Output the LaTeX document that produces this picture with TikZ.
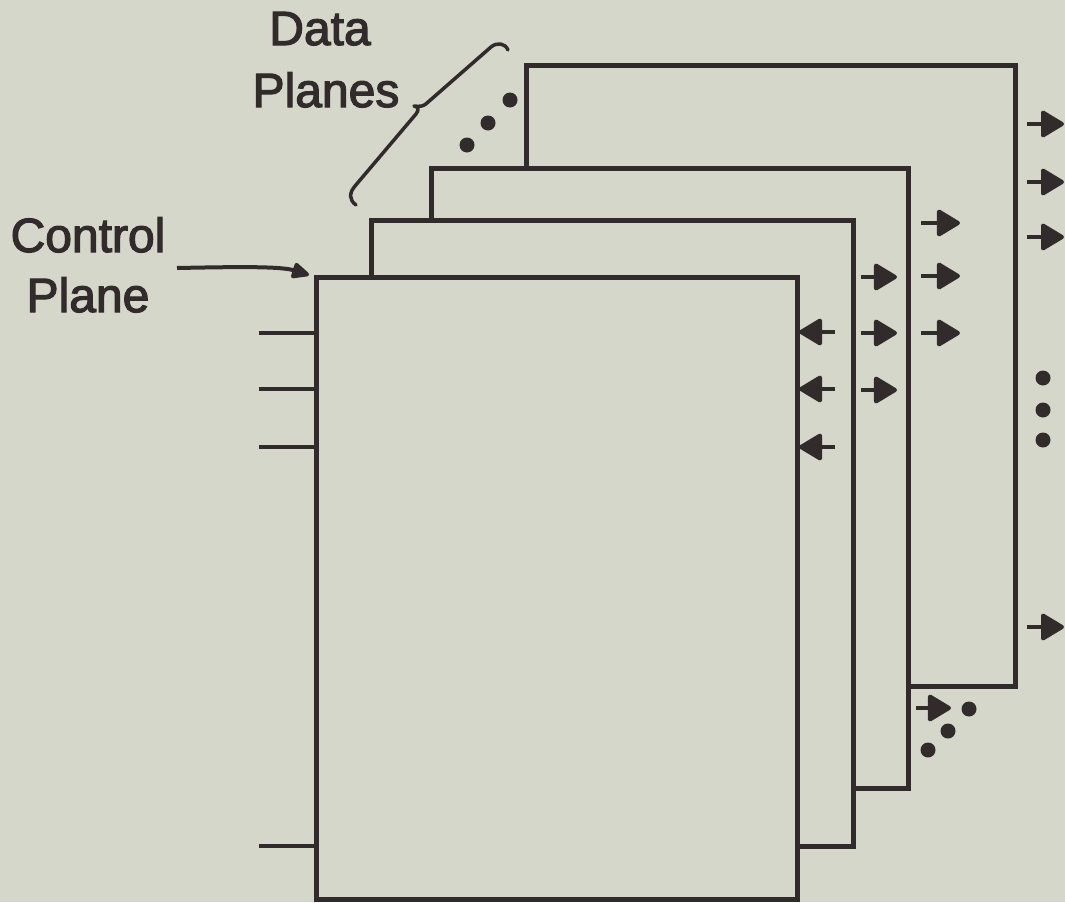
\documentclass[tikz,border=0pt]{standalone}
\usepackage{fontspec}
\setmainfont{Liberation Sans}
\newfontfamily\lblfont[FakeBold=2.5]{Liberation Sans}
\usetikzlibrary{arrows.meta}
\definecolor{ink}{RGB}{50,43,43}
\definecolor{paper}{RGB}{213,215,202}
\begin{document}
\begin{tikzpicture}[x=1pt,y=1pt,
  plane/.style={draw=ink, fill=paper, line width=5pt, inner sep=0pt, outer sep=0pt, anchor=north west},
  sig/.style={draw=ink, line width=4pt, -{Triangle[length=25pt,width=29pt,round]}},
  wire/.style={draw=ink, line width=4.5pt},
  dot/.style={fill=ink},
  lbl/.style={font=\lblfont\fontsize{48}{60}\selectfont, text=ink, inner sep=0pt, anchor=base},
  ctlarrow/.style={draw=ink, line width=4pt, -{Triangle[length=20pt,width=17pt,round]}},
  bracepath/.style={draw=ink, line width=3.5pt, line cap=round, line join=round}]
\useasboundingbox (0,0) rectangle (1065,-902);
\fill[paper] (0,0) rectangle (1065,-902);

% planes, back to front
\node[plane, minimum width=489pt, minimum height=621pt] (p4) at (526,-65) {};
\node[plane, minimum width=477pt, minimum height=620pt] (p3) at (431,-168) {};
\node[plane, minimum width=482pt, minimum height=626pt] (p2) at (371,-220) {};
\node[plane, minimum width=481pt, minimum height=622pt] (p1) at (316,-277) {};

% outputs of back data plane
\foreach \y [count=\i] in {124,182,237,627} {
  \coordinate (a4s\i) at (1027,-\y);
  \coordinate (a4e\i) at (1064,-\y);
  \draw[sig] (a4s\i) -- (a4e\i);
}
% outputs of third plane
\foreach \y [count=\i] in {223,276,333} {
  \coordinate (a3s\i) at (921,-\y);
  \coordinate (a3e\i) at (960,-\y);
  \draw[sig] (a3s\i) -- (a3e\i);
}
% outputs of second plane
\foreach \y [count=\i] in {277,333,390} {
  \coordinate (a2s\i) at (861,-\y);
  \coordinate (a2e\i) at (897,-\y);
  \draw[sig] (a2s\i) -- (a2e\i);
}
% inputs into control plane (right side)
\foreach \y [count=\i] in {332,389,447} {
  \coordinate (a1s\i) at (835,-\y);
  \draw[sig] (a1s\i) -- ([xshift=2pt]a1s\i -| p1.east);
}
% inputs on left side of control plane
\foreach \y [count=\i] in {333,389,447,846} {
  \coordinate (w\i) at (259,-\y);
  \draw[wire] (w\i) -- (w\i -| p1.west);
}
% arrow below back plane
\coordinate (bs) at (916,-708);
\coordinate (be) at (951,-708);
\draw[sig] (bs) -- (be);

% dots
\foreach \x/\y in {510/100, 488/123, 467/145, 1043/378, 1043/410, 1043/440, 969/709, 948/731, 928/750}
  \fill[dot] (\x,-\y) circle (7.5pt);

% labels
\node[lbl] (ctl1) at (88,-252) {Control};
\node[lbl] (ctl2) at (88,-312) {Plane};
\node[lbl] (dat1) at (320,-45) {Data};
\node[lbl] (dat2) at (326,-107) {Planes};

% control plane pointer
\coordinate (cs) at (177,-268);
\coordinate (ce) at (309,-275);
\draw[ctlarrow] (cs) .. controls (230,-267) and (280,-266) .. (ce);

% brace
\draw[bracepath] (356,-205) .. controls (349,-200) and (349,-193) .. (355,-186)
  -- (416,-114) .. controls (419,-110) and (419,-107) .. (414,-106)
  .. controls (420,-107) and (424,-106) .. (427,-103)
  -- (491,-47) .. controls (497,-42) and (505,-43) .. (508,-50);
\end{tikzpicture}
\end{document}
